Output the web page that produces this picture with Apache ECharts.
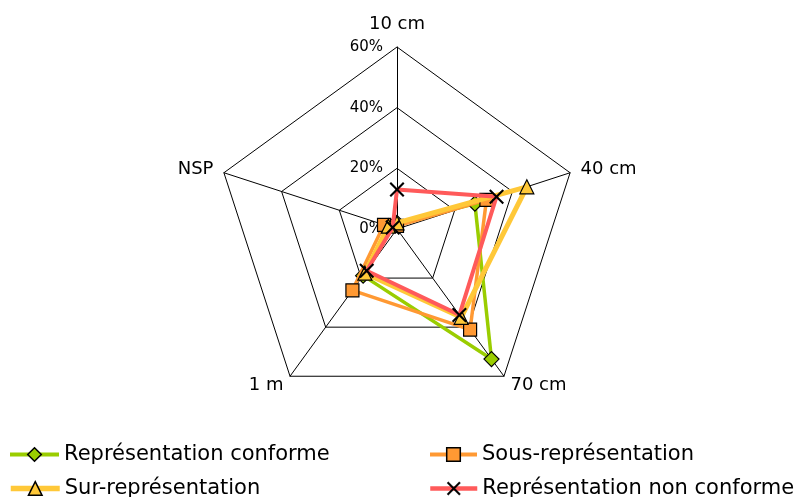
<!DOCTYPE html>
<html>
<head>
<meta charset="utf-8">
<script src="https://cdn.jsdelivr.net/npm/echarts@6/dist/echarts.min.js"></script>
<style>
html,body{margin:0;padding:0;background:#fff;}
#chart{width:797px;height:497px;}
</style>
</head>
<body>
<div id="chart"></div>
<script>
// Data (clockwise order starting from the top)
var categories = ['10 cm', '40 cm', '70 cm', '1 m', 'NSP'];
var tickMax = 60;
var seriesNames = ['Représentation conforme', 'Sous-représentation', 'Sur-représentation', 'Représentation non conforme'];
var conforme = [2, 27, 53, 19, 3];
var sousRep = [1, 31, 41, 25, 4.5];
var surRep = [2, 45, 36, 18, 3];
var nonConforme = [13, 34.5, 35, 17, 1.5];

var FONT = 'DejaVu Sans';
var xPath = 'path://M0,1L1,0L5,4L9,0L10,1L6,5L10,9L9,10L5,6L1,10L0,9L4,5Z';

// ECharts radar runs counter-clockwise: reorder so the axes run clockwise
var order = [0].concat(categories.slice(1).map(function (c, i) { return categories.length - 1 - i; }));
function reorder(arr) { return order.map(function (k) { return arr[k]; }); }

var styles = [
  {color: '#9ACD00', width: 3.5, symbol: 'diamond', size: 15, fill: '#9ACD00', border: '#000', bw: 1.2},
  {color: '#FF9933', width: 3.5, symbol: 'rect', size: 13, fill: '#FF9933', border: '#000', bw: 1.2},
  {color: '#FFC838', width: 5, symbol: 'triangle', size: 14, fill: '#FFC838', border: '#000', bw: 1.2},
  {color: '#FF5A5A', width: 4, symbol: xPath, size: 15, fill: '#000', border: '#000', bw: 0}
];
var values = [conforme, sousRep, surRep, nonConforme];

var indicator = reorder(categories).map(function (c, i) {
  var o = {name: c, min: 0, max: tickMax};
  if (i === 0) {
    o.axisLabel = {show: true, color: '#000', fontSize: 15, fontFamily: FONT, margin: 14,
      formatter: function (v) { return v + '%'; }};
    o.nameGap = 14;
  }
  return o;
});

var series = [];
// legend-only line series (first, so the legend draws line + marker icons)
seriesNames.forEach(function (n, i) {
  var s = styles[i];
  series.push({
    type: 'line', name: n, data: [], xAxisIndex: 0, yAxisIndex: 0,
    symbol: s.symbol, symbolSize: s.size,
    lineStyle: {color: s.color, width: s.width},
    itemStyle: {color: s.fill, borderColor: s.border, borderWidth: s.bw}
  });
});
seriesNames.forEach(function (n, i) {
  var s = styles[i];
  series.push({
    type: 'radar', name: n, radarIndex: 0,
    symbol: s.symbol, symbolSize: s.size,
    lineStyle: {color: s.color, width: s.width},
    itemStyle: {color: s.fill, borderColor: s.border, borderWidth: s.bw},
    z: 2 + i,
    data: [{name: n, value: reorder(values[i])}]
  });
});

var legendText = {fontSize: 21, color: '#000', fontFamily: FONT};
var legendPos = [[8, 444, 49], [428, 444, 47], [8, 478, 49], [428, 478, 47]];
var legends = seriesNames.map(function (n, i) {
  var p = legendPos[i];
  var s = styles[i];
  return {orient: 'horizontal', left: p[0], top: p[1], padding: 0, itemWidth: p[2], itemHeight: 17,
    selectedMode: false, textStyle: legendText,
    lineStyle: {width: s.width + 0.5, color: s.color},
    itemStyle: {color: s.fill, borderColor: s.border, borderWidth: s.bw + 0.3},
    data: [n]};
});

var option = {
  animation: false,
  backgroundColor: '#fff',
  grid: {show: false, left: 0, top: 0, width: 1, height: 1},
  xAxis: {show: false, type: 'category', data: []},
  yAxis: {show: false, type: 'value'},
  radar: {
    center: [397, 229],
    radius: 182,
    startAngle: 90,
    shape: 'polygon',
    splitNumber: 3,
    nameGap: 11,
    axisName: {color: '#000', fontSize: 18, fontFamily: FONT},
    axisLine: {lineStyle: {color: '#000', width: 1}},
    splitLine: {lineStyle: {color: '#000', width: 1}},
    splitArea: {show: false},
    axisTick: {show: false},
    axisLabel: {show: false},
    indicator: indicator
  },
  legend: legends,
  series: series
};
var chart = echarts.init(document.getElementById('chart'), null, {renderer: 'canvas'});
chart.setOption(option);
</script>
</body>
</html>
